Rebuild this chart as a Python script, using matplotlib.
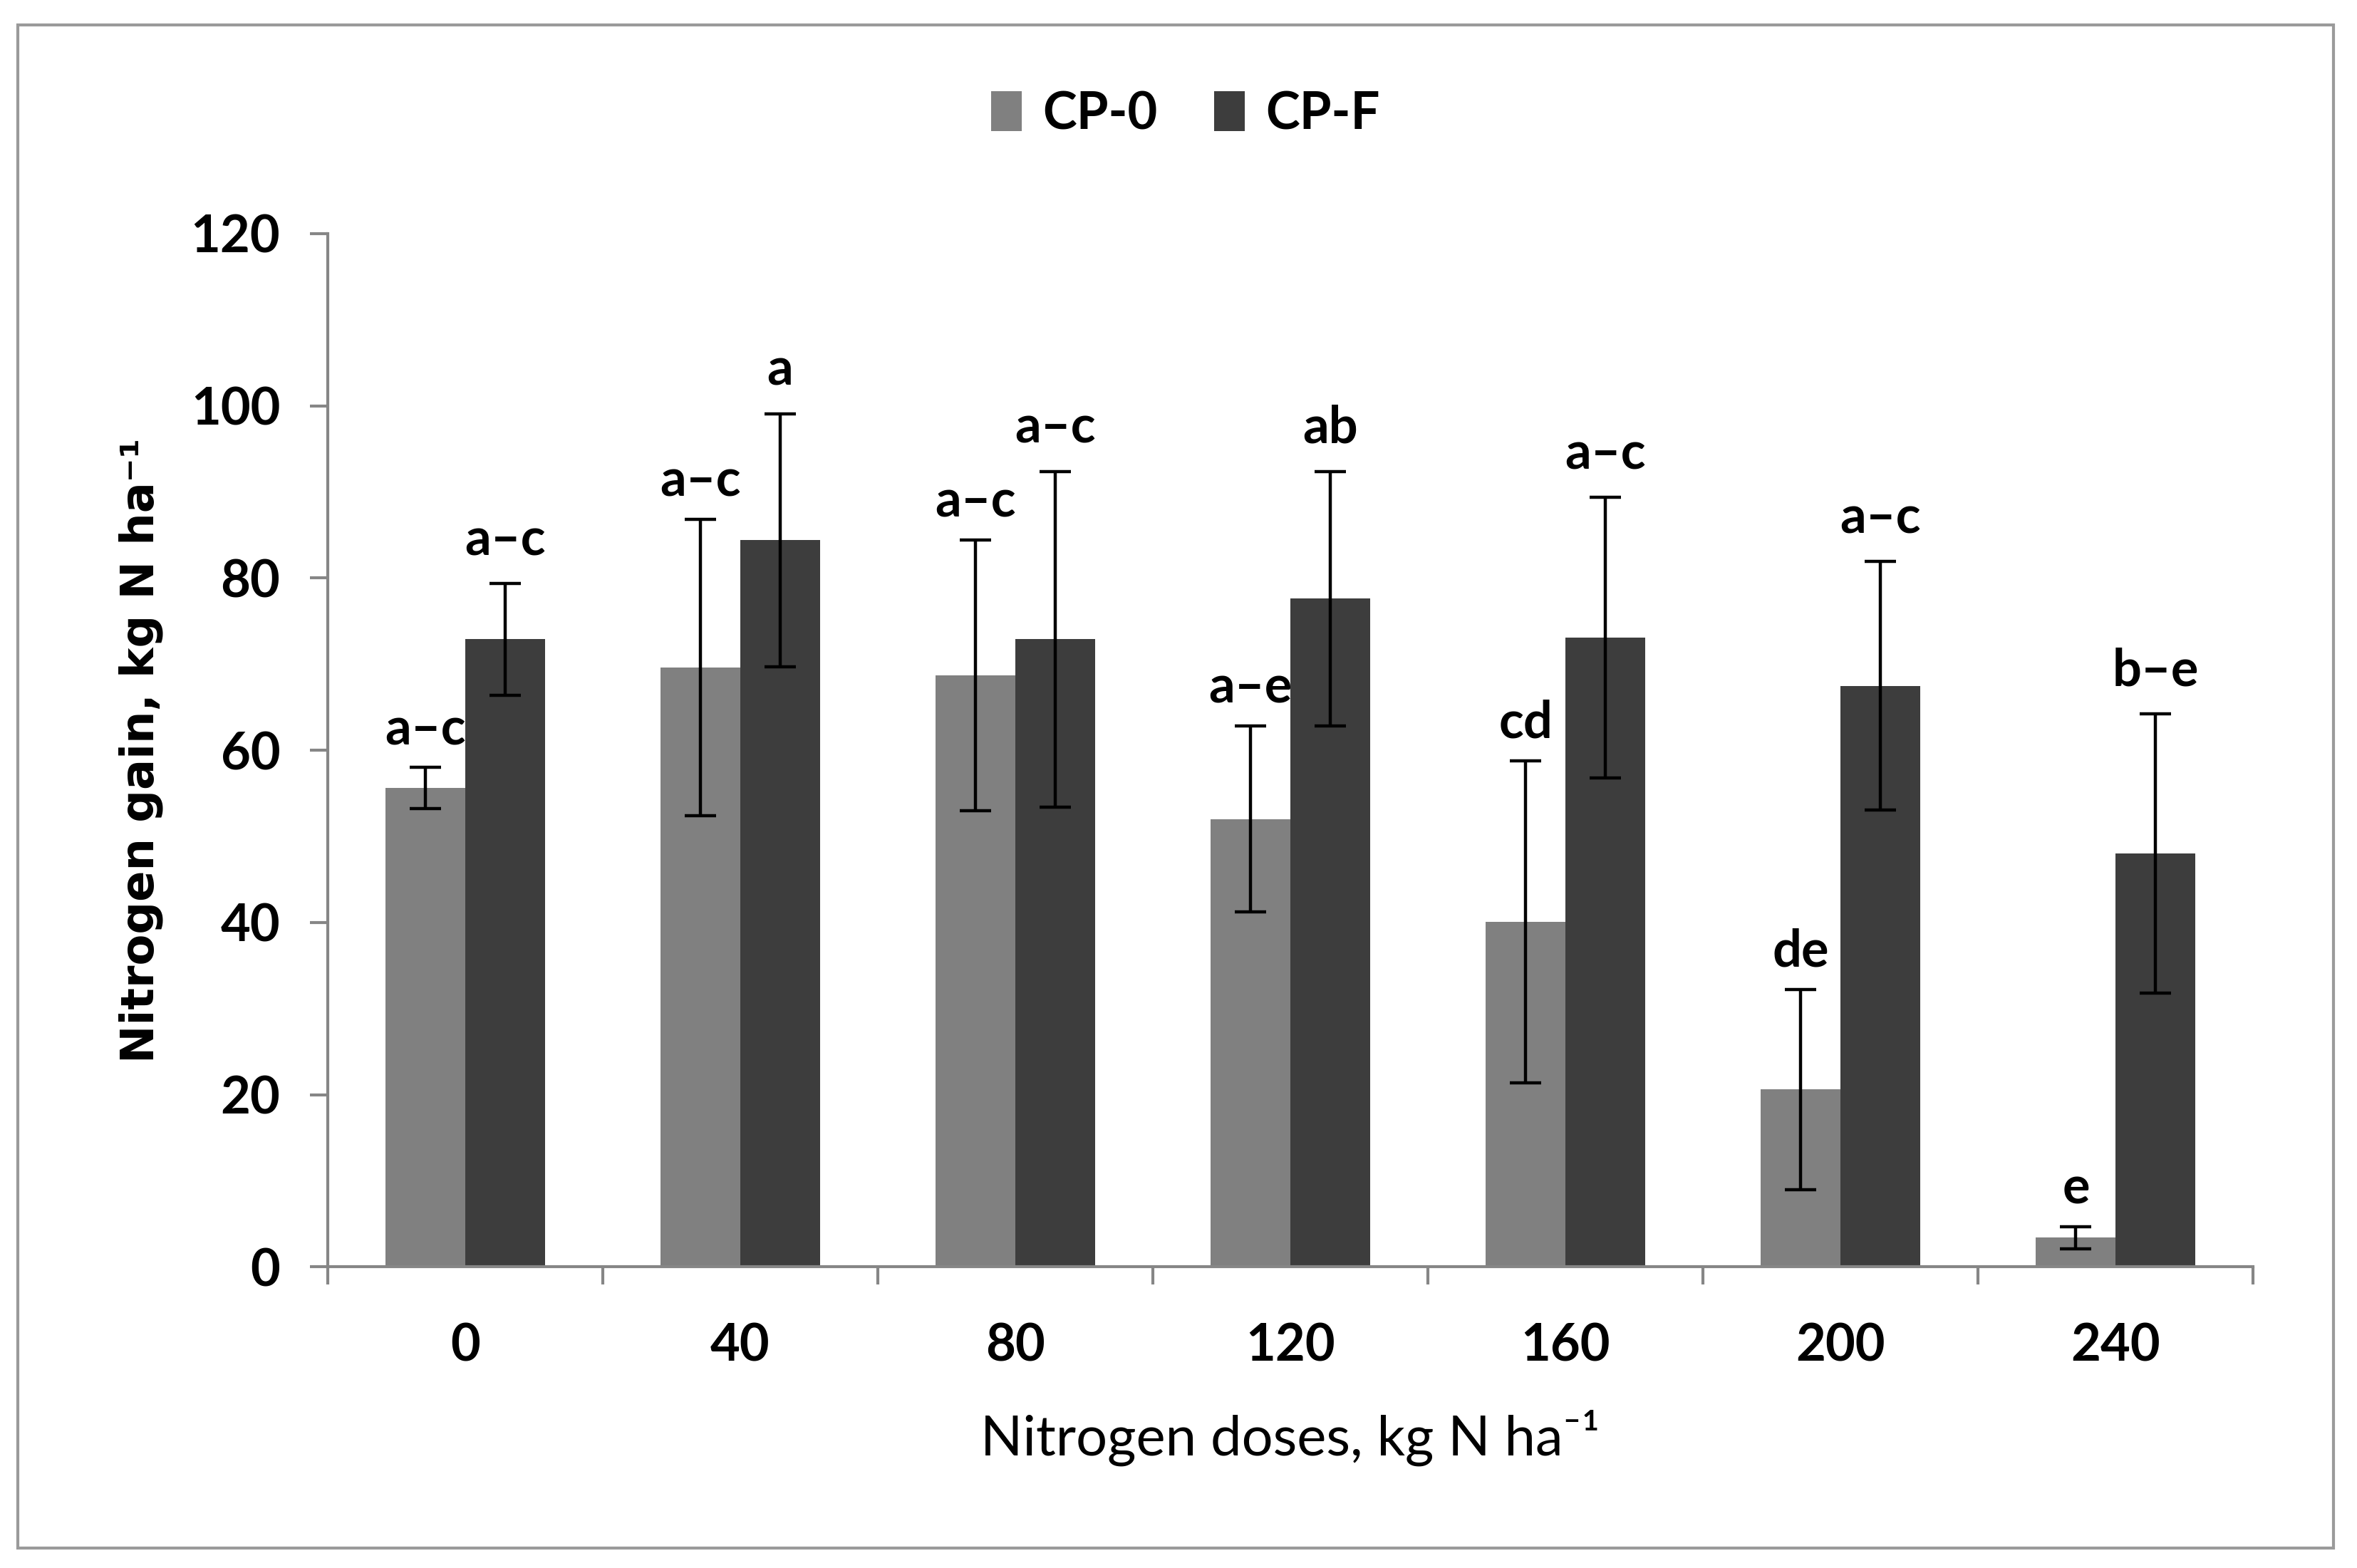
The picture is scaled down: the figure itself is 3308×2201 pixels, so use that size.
import matplotlib.pyplot as plt
import numpy as np
from matplotlib.patches import Rectangle

DOSES = ["0", "40", "80", "120", "160", "200", "240"]
CP0_MEAN = [55.6, 69.6, 68.7, 52.0, 40.1, 20.6, 3.4]
CP0_ERR = [2.4, 17.2, 15.7, 10.8, 18.7, 11.6, 1.3]
CPF_MEAN = [72.9, 84.4, 72.9, 77.6, 73.1, 67.5, 48.0]
CPF_ERR = [6.5, 14.7, 19.5, 14.8, 16.3, 14.4, 16.2]
CP0_LETTERS = ["a–c", "a–c", "a–c", "a–e", "cd", "de", "e"]
CPF_LETTERS = ["a–c", "a", "a–c", "ab", "a–c", "a–c", "b–e"]

COLORS = {"CP-0": "#808080", "CP-F": "#3d3d3d"}
AXIS_GREY = "#868686"
BAR_WIDTH = 0.29
FONT = ["Lato", "DejaVu Sans"]

plt.rcParams["font.family"] = FONT

fig = plt.figure(figsize=(16.54, 11.005), dpi=200)
ax = fig.add_axes([0.139, 0.192, 0.817, 0.659])

x = np.arange(len(DOSES))
err_style = dict(ecolor="black", elinewidth=1.6, capsize=8, capthick=1.6)

ax.bar(x - BAR_WIDTH / 2, CP0_MEAN, BAR_WIDTH, color=COLORS["CP-0"], label="CP-0", zorder=2)
ax.bar(x + BAR_WIDTH / 2, CPF_MEAN, BAR_WIDTH, color=COLORS["CP-F"], label="CP-F", zorder=2)
ax.errorbar(x - BAR_WIDTH / 2, CP0_MEAN, yerr=CP0_ERR, fmt="none", zorder=3, **err_style)
ax.errorbar(x + BAR_WIDTH / 2, CPF_MEAN, yerr=CPF_ERR, fmt="none", zorder=3, **err_style)

# letters sit just above each error bar, behind the bars
for i in range(len(DOSES)):
    ax.text(x[i] - BAR_WIDTH / 2, CP0_MEAN[i] + CP0_ERR[i] + 1.6, CP0_LETTERS[i],
            ha="center", va="bottom", fontsize=26, fontweight="bold", zorder=1)
    ax.text(x[i] + BAR_WIDTH / 2, CPF_MEAN[i] + CPF_ERR[i] + 2.2, CPF_LETTERS[i],
            ha="center", va="bottom", fontsize=26, fontweight="bold", zorder=1)

ax.set_xlim(-0.5, len(DOSES) - 0.5)
ax.set_ylim(0, 120)
ax.set_yticks(np.arange(0, 121, 20))
ax.set_xticks(x)
ax.set_xticklabels(DOSES)
ax.set_xticks(np.arange(-0.5, len(DOSES), 1), minor=True)

for side in ["top", "right"]:
    ax.spines[side].set_visible(False)
for side in ["left", "bottom"]:
    ax.spines[side].set_color(AXIS_GREY)
    ax.spines[side].set_linewidth(1.5)

ax.tick_params(axis="y", direction="out", length=9, width=1.5, color=AXIS_GREY,
               labelsize=26, pad=15)
ax.tick_params(axis="x", which="major", length=0, labelsize=26, pad=28)
ax.tick_params(axis="x", which="minor", direction="out", length=9, width=1.5, color=AXIS_GREY)
for lab in ax.get_xticklabels() + ax.get_yticklabels():
    lab.set_fontweight("bold")

ax.set_xlabel("Nitrogen doses, kg N ha⁻¹", fontsize=28, labelpad=20)
ax.set_ylabel("Nitrogen gain, kg N ha⁻¹", fontsize=23, fontweight="bold",
              family="DejaVu Sans", labelpad=14)

fig.legend(loc="center", bbox_to_anchor=(0.503, 0.927), ncol=2, frameon=False,
           prop={"size": 26, "weight": "bold"}, handlelength=0.6, handleheight=0.8,
           handletextpad=0.4, columnspacing=1.1)

fig.patches.append(Rectangle((0.0077, 0.0125), 0.9823, 0.9715, transform=fig.transFigure,
                             fill=False, edgecolor="#9a9a9a", linewidth=1.5))

fig.savefig("out.png", dpi=200)
